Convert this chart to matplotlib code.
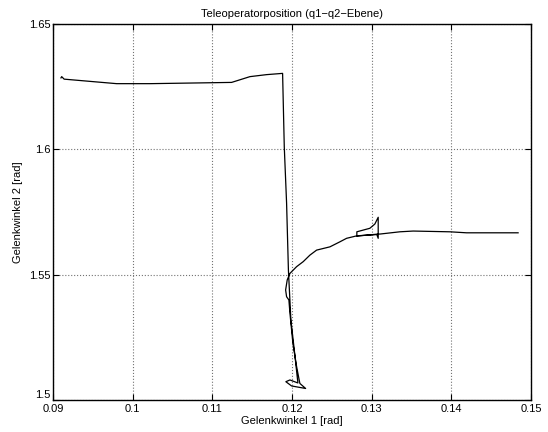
import numpy as np
import matplotlib.pyplot as plt
from matplotlib.ticker import FuncFormatter

# Trajectory of the teleoperator in the q1-q2 plane
q1 = [0.14838, 0.14191, 0.13981, 0.13521, 0.13354, 0.13103, 0.13082,
      0.12814, 0.12814, 0.12977, 0.13040, 0.13082, 0.13082, 0.13065,
      0.12814, 0.12685, 0.12601, 0.12476, 0.12309, 0.12225, 0.12141,
      0.12058, 0.11974, 0.11940, 0.11920, 0.11932, 0.11961, 0.11974,
      0.12011, 0.12058, 0.12090, 0.12099, 0.12171, 0.11995, 0.11923,
      0.11974, 0.12074, 0.12036, 0.11986, 0.11955, 0.11932, 0.11903,
      0.11882, 0.11681, 0.11472, 0.11242, 0.10844, 0.10217, 0.09799,
      0.09140, 0.09109, 0.09100]
q2 = [1.5667, 1.5667, 1.5671, 1.5674, 1.5671, 1.5662, 1.5662,
      1.5654, 1.5671, 1.5685, 1.5702, 1.5729, 1.5645, 1.5660,
      1.5655, 1.5645, 1.5631, 1.5611, 1.5598, 1.5578, 1.5552,
      1.5532, 1.5505, 1.5479, 1.5439, 1.5412, 1.5399, 1.5347,
      1.5227, 1.5133, 1.5080, 1.5066, 1.5046, 1.5056, 1.5073,
      1.5080, 1.5068, 1.5179, 1.5319, 1.5518, 1.5786, 1.6010,
      1.6303, 1.6298, 1.6290, 1.6267, 1.6265, 1.6262, 1.6262,
      1.6280, 1.6290, 1.6285]

x_ticks = [0.09, 0.10, 0.11, 0.12, 0.13, 0.14, 0.15]
y_ticks = [1.50, 1.55, 1.60, 1.65]

plt.rcParams['font.family'] = ['Liberation Sans', 'DejaVu Sans']
plt.rcParams['font.size'] = 8

fig = plt.figure(figsize=(5.48, 4.32), dpi=100)
ax = fig.add_axes([53 / 548, 32 / 432, 478 / 548, 376 / 432])

ax.plot(q1, q2, color='black', linewidth=0.9)

ax.set_xlim(0.09, 0.15)
ax.set_ylim(1.5, 1.65)
ax.set_xticks(x_ticks)
ax.set_yticks(y_ticks)
ax.xaxis.set_major_formatter(FuncFormatter(lambda v, p: f'{v:g}'))
ax.yaxis.set_major_formatter(FuncFormatter(lambda v, p: f'{v:g}'))

ax.grid(True, linestyle=':', color='0.45', linewidth=0.8)
ax.tick_params(direction='in', top=True, right=True, length=4, width=0.8)
ax.tick_params(axis='x', pad=3)
ax.tick_params(axis='y', pad=2)
# MATLAB puts the lowest y label a little higher than the x labels
ax.get_yticklabels()[0].set_verticalalignment('bottom')
for s in ax.spines.values():
    s.set_linewidth(1.0)

ax.set_title('Teleoperatorposition (q1\u2212q2\u2212Ebene)', fontsize=8, pad=5)
ax.set_xlabel('Gelenkwinkel 1 [rad]', labelpad=1)
ax.set_ylabel('Gelenkwinkel 2 [rad]', labelpad=4)

fig.savefig('out.png', dpi=100)
